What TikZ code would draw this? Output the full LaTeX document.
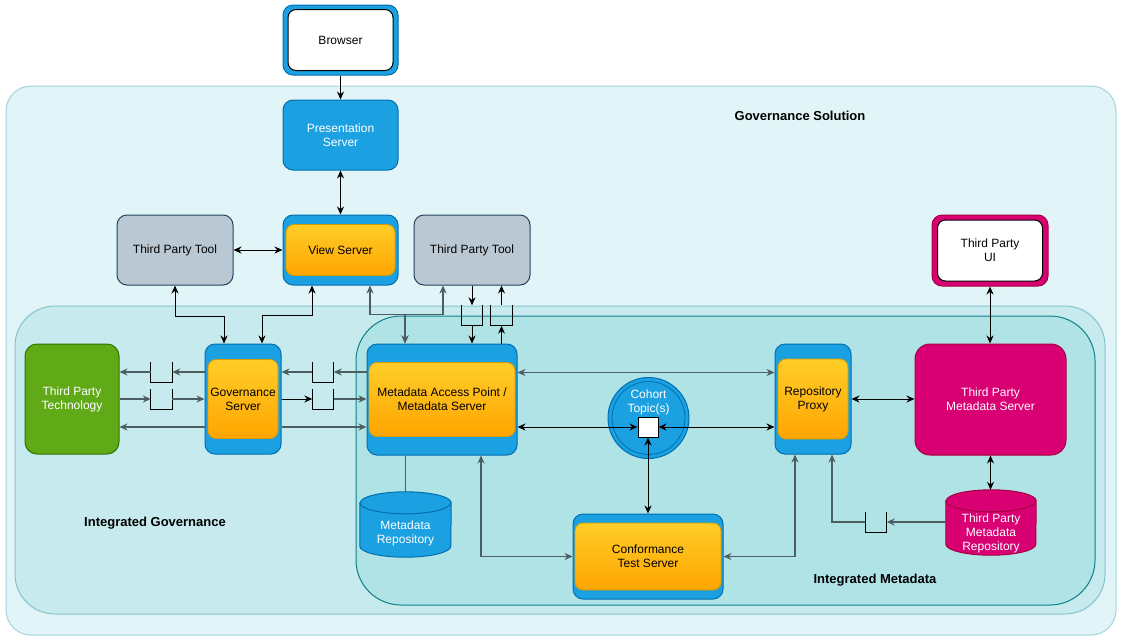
\documentclass[tikz,border=0pt]{standalone}
\usepackage{fontspec}
\setmainfont{Liberation Sans}
\usepackage{tikz}
\usetikzlibrary{calc, positioning, arrows.meta, shapes.geometric}

\definecolor{srvblue}{HTML}{1BA1E2}
\definecolor{srvline}{HTML}{006EAF}
\definecolor{orgtop}{HTML}{FFCD28}
\definecolor{orgbot}{HTML}{FFA500}
\definecolor{orgline}{HTML}{D79B00}
\definecolor{toolgray}{HTML}{BAC8D3}
\definecolor{toolline}{HTML}{23445D}
\definecolor{techgreen}{HTML}{60A917}
\definecolor{techline}{HTML}{2D7600}
\definecolor{tpmag}{HTML}{D80073}
\definecolor{tpline}{HTML}{A50040}
\definecolor{solfill}{HTML}{E1F4F7}
\definecolor{solline}{HTML}{A3D5DC}
\definecolor{govfill}{HTML}{C6EAED}
\definecolor{govline}{HTML}{86C4CA}
\definecolor{metafill}{HTML}{B0E3E6}
\definecolor{metaline}{HTML}{0E8088}
\definecolor{wire}{HTML}{4C5E61}

% drum outline inside a named box: #1 node, #2 style, #3 half width
\newcommand\drum[3]{%
  \draw[#2] ([yshift=-11pt]#1.north west) -- ([yshift=11pt]#1.south west)
    arc[start angle=180, end angle=360, x radius=#3, y radius=11pt]
    -- ([yshift=-11pt]#1.north east)
    arc[start angle=0, end angle=180, x radius=#3, y radius=11pt] -- cycle;
  \draw[#2, fill=none] ([yshift=-11pt]#1.north west)
    arc[start angle=180, end angle=360, x radius=#3, y radius=11pt];}

\begin{document}
\begin{tikzpicture}[
    x=1pt, y=-1pt,
    >={Stealth[length=8pt, width=7pt]},
    every node/.style={font=\fontsize{12}{14}\selectfont, align=center, inner sep=0pt},
    zone/.style={line width=1pt},
    title/.style={font=\fontsize{13}{15}\selectfont\bfseries},
    srv/.style={draw=srvline, fill=srvblue, line width=1pt, rounded corners=10pt},
    core/.style={draw=orgline, top color=orgtop, bottom color=orgbot,
                 line width=0.8pt, rounded corners=8pt},
    blank/.style={draw=black, fill=white, line width=1pt, rounded corners=8pt},
    tool/.style={draw=toolline, fill=toolgray, line width=1pt, rounded corners=10pt,
                 minimum width=116pt, minimum height=70pt},
    tpbox/.style={draw=tpline, fill=tpmag, text=white, line width=1pt, rounded corners=15pt},
    dbbox/.style={minimum width=#1, minimum height=65pt},
    dbtext/.style={text=white},
    topic/.style={minimum width=21pt, minimum height=20pt},
    arr/.style={->, line width=1pt},
    biarr/.style={<->, line width=1pt},
    garr/.style={->, line width=1.4pt, draw=wire},
    gbiarr/.style={<->, line width=1.4pt, draw=wire},
    gline/.style={line width=1.4pt, draw=wire},
    uline/.style={line width=1pt}
]
\useasboundingbox (0,0) rectangle (1121,641);

% zones
\node[zone, draw=solline, fill=solfill, rounded corners=25pt,
      minimum width=1110pt, minimum height=549pt] (sol) at (561,360.5) {};
\node[zone, draw=govline, fill=govfill, rounded corners=40pt,
      minimum width=1090pt, minimum height=308pt] (intgov) at (560,460) {};
\node[zone, draw=metaline, fill=metafill, rounded corners=45pt,
      minimum width=739pt, minimum height=289pt] (intmeta) at (725.5,460.5) {};

\node[title] (soltitle) at (800,116) {Governance Solution};
\node[title] (govtitle) at (155,523) {Integrated Governance};
\node[title] (metatitle) at (875,580) {Integrated Metadata};

% top column
\node[srv, minimum width=115pt, minimum height=70pt] (browser) at (340.5,40) {};
\node[blank, minimum width=105pt, minimum height=61pt] (browserin) at (browser) {Browser};

\node[srv, text=white, minimum width=115pt, minimum height=70pt] (pres) at (340.5,135)
  {Presentation\\Server};

\node[srv, minimum width=115pt, minimum height=70pt] (view) at (340.5,250) {};
\node[core, minimum width=109pt, minimum height=51pt] (viewin) at (view) {View Server};

\node[tool] (tool1) at (175,250) {Third Party Tool};
\node[tool] (tool2) at (472,250) {Third Party Tool};

\node[srv, draw=tpline, fill=tpmag, minimum width=116pt, minimum height=71pt] (tpui) at (990,250.5) {};
\node[blank, minimum width=105pt, minimum height=61pt] (tpuiin) at (tpui) {Third Party\\UI};

% server row
\node[draw=techline, fill=techgreen, text=white, line width=1pt, rounded corners=12pt,
      minimum width=94pt, minimum height=110pt] (tptech) at (72,399) {Third Party\\Technology};

\node[srv, minimum width=76pt, minimum height=110pt] (gov) at (243,399) {};
\node[core, minimum width=70pt, minimum height=79pt] (govin) at (gov) {Governance\\Server};

\node[srv, minimum width=150pt, minimum height=111pt] (map) at (442,399.5) {};
\node[core, minimum width=146pt, minimum height=74pt] (mapin) at (map)
  {Metadata Access Point /\\Metadata Server};

\node[circle, draw=srvline, fill=srvblue, line width=1pt, minimum size=81pt,
      label={[text=white, yshift=16pt]center:Cohort\\Topic(s)}] (cohort) at (648.5,418) {};
\node[circle, draw=srvline, line width=0.8pt, minimum size=73pt] (cohortin) at (cohort) {};
\node[draw=black, fill=white, line width=1pt, minimum size=20pt] (sq) at (648,427) {};

\node[srv, minimum width=76pt, minimum height=110pt] (rp) at (813,399) {};
\node[core, minimum width=70pt, minimum height=80pt] (rpin) at (rp) {Repository\\Proxy};

\node[tpbox, minimum width=151pt, minimum height=111pt] (tpms) at (990.5,399.5)
  {Third Party\\Metadata Server};

% lower row
\node[dbbox=91pt] (mdrepo) at (405.5,524.5) {};
\drum{mdrepo}{draw=srvline, fill=srvblue, line width=1pt}{45.5pt}
\node[dbtext] (mdrepotxt) at ([yshift=-9pt]mdrepo.center) {Metadata\\Repository};

\node[dbbox=90pt] (tprepo) at (991,522.5) {};
\drum{tprepo}{draw=tpline, fill=tpmag, line width=1pt}{45pt}
\node[dbtext] (tprepotxt) at ([yshift=-11pt]tprepo.center) {Third Party\\Metadata\\Repository};

\node[srv, minimum width=150pt, minimum height=85pt] (cts) at (648,556.5) {};
\node[core, minimum width=146pt, minimum height=67pt] (ctsin) at (cts) {Conformance\\Test Server};

% topics
\node[topic] (tA) at (472,315.5) {};
\node[topic] (tB) at (501.5,315.5) {};
\node[topic] (tC) at (161.5,372) {};
\node[topic] (tD) at (161.5,399) {};
\node[topic] (tE) at (323,372) {};
\node[topic] (tF) at (323,399) {};
\node[topic] (tG) at (876,522) {};
\foreach \t in {tA,tB,tC,tD,tE,tF,tG}
  \draw[uline] (\t.north west) -- (\t.south west) -- (\t.south east) -- (\t.north east);

% connectors, top
\draw[arr] (browser.south) -- (pres.north);
\draw[biarr] (pres.south) -- (view.north);
\draw[biarr] (tool1.east) -- (view.west);
\draw[biarr] (tool1.south) -- ++(0,31) -| ([xshift=-19pt]gov.north);
\draw[biarr] ([xshift=-28.5pt]view.south) -- ++(0,30) -| ([xshift=19pt]gov.north);
\draw[gbiarr] ([xshift=-37pt]map.north) -- ++(0,-29) -| ([xshift=29.5pt]view.south);
\draw[gbiarr] ([xshift=-37pt]map.north) -- ++(0,-29) -| ([xshift=-29pt]tool2.south);
\draw[arr] (tool2.south) -- (tA.north);
\draw[arr] (tA.south) -- (tA.south |- map.north);
\draw[arr] (tB.south |- map.north) -- (tB.south);
\draw[arr] (tB.north) -- (tB.north |- tool2.south);
\draw[biarr] (tpui.south) -- (tpui.south |- tpms.north);

% connectors, governance
\draw[garr] ([yshift=27pt]gov.west) -- (tC.east);
\draw[garr] (tC.west) -- (tC.west -| tptech.east);
\draw[garr] (tD.west -| tptech.east) -- (tD.west);
\draw[garr] (tD.east) -- (tD.east -| gov.west);
\draw[garr] ([yshift=-28pt]gov.west) -- ([yshift=-28pt]gov.west -| tptech.east);
\draw[garr] (tE.east -| map.west) -- (tE.east);
\draw[garr] (tE.west) -- (tE.west -| gov.east);
\draw[arr] (gov.east |- tF.west) -- (tF.west);
\draw[garr] (tF.east) -- (tF.east -| map.west);
\draw[garr] ([yshift=-28pt]gov.east) -- ([yshift=-28pt]gov.east -| map.west);

% connectors, metadata
\draw[gbiarr] ([yshift=27pt]map.east) -- ([yshift=27pt]map.east -| rp.west);
\draw[biarr] (sq.west -| map.east) -- (sq.west);
\draw[biarr] (sq.east) -- (sq.east -| rp.west);
\draw[biarr] (sq.south) -- (sq.south |- cts.north);
\draw[gbiarr] ([xshift=39pt]map.south) |- (cts.west);
\draw[gbiarr] (cts.east) -| ([xshift=-18pt]rp.south);
\draw[gline] (mdrepo.north) -- (mdrepo.north |- map.south);
\draw[biarr] (rp.east) -- (rp.east -| tpms.west);
\draw[biarr] (tpms.south) -- (tpms.south |- tprepo.north);
\draw[garr] (tG.east -| tprepo.west) -- (tG.east);
\draw[garr] (tG.west) -| ([xshift=19pt]rp.south);

\end{tikzpicture}
\end{document}
